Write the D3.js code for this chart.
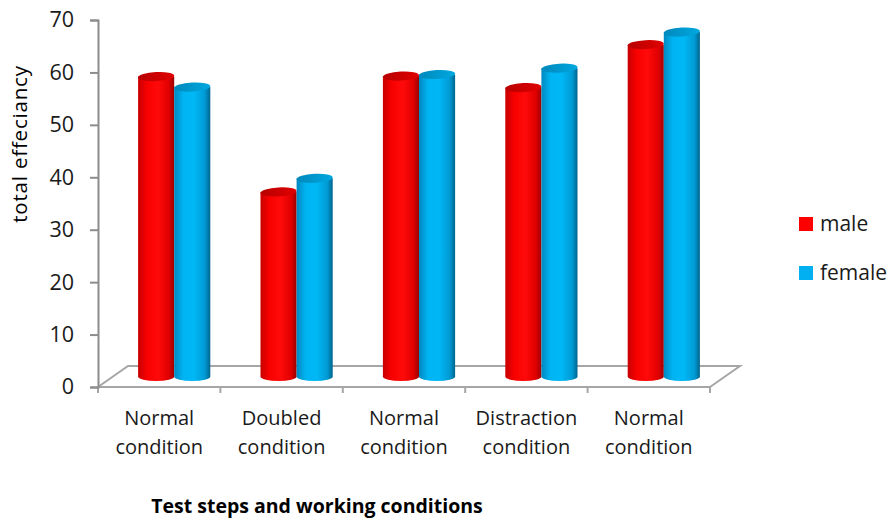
<!DOCTYPE html>
<html>
<head>
<meta charset="utf-8">
<script src="https://cdn.jsdelivr.net/npm/d3@7"></script>
<style>
  html, body { margin: 0; padding: 0; background: #ffffff; }
  svg { display: block; font-family: "Open Sans", "Noto Sans", sans-serif; }
</style>
</head>
<body>
<svg id="chart" width="895" height="519"></svg>
<script>
// ---- data ----
const categories = [
  ["Normal", "condition"],
  ["Doubled", "condition"],
  ["Normal", "condition"],
  ["Distraction", "condition"],
  ["Normal", "condition"]
];
const seriesNames = ["male", "female"];
const maleValues = [57.2, 35.2, 57.3, 55.1, 63.3];
const femaleValues = [55.2, 37.8, 57.6, 58.8, 65.7];
const yTicks = [0, 10, 20, 30, 40, 50, 60, 70];
const yTitle = "total effeciancy";
const xTitle = "Test steps and working conditions";

const seriesValues = [maleValues, femaleValues];

// ---- layout ----
const svg = d3.select("#chart");
const plotLeft = 98, plotRight = 710, plotTop = 20, plotBottom = 387;
const depthX = 30, depthY = -21;       // floor depth offset
const midX = depthX / 2, midY = depthY / 2;
const ry = 4.5;

const y = d3.scaleLinear().domain([0, 70]).range([plotBottom, plotTop]);
const x = d3.scaleBand().domain(d3.range(categories.length)).range([plotLeft, plotRight]);
const groupW = x.bandwidth() * 0.59;
const xs = d3.scaleBand().domain(seriesNames).range([-groupW / 2, groupW / 2]);

const colors = { male: "#ff0000", female: "#00b0f0" };

// gradients
const defs = svg.append("defs");
const gradSpec = {
  male: [["0%", "#c80000"], ["25%", "#f80000"], ["55%", "#ff0a0a"], ["85%", "#e00000"], ["100%", "#9a0000"]],
  female: [["0%", "#0088c0"], ["25%", "#00b4f2"], ["55%", "#00b8f6"], ["85%", "#009ad4"], ["100%", "#00658e"]]
};
const topSpec = {
  male: [["0%", "#b80000"], ["100%", "#e00000"]],
  female: [["0%", "#0088bb"], ["100%", "#00a8e0"]]
};
Object.keys(gradSpec).forEach(k => {
  const g = defs.append("linearGradient").attr("id", "body-" + k)
    .attr("x1", "0%").attr("x2", "100%").attr("y1", "0%").attr("y2", "0%");
  gradSpec[k].forEach(s => g.append("stop").attr("offset", s[0]).attr("stop-color", s[1]));
  const t = defs.append("linearGradient").attr("id", "top-" + k)
    .attr("x1", "0%").attr("x2", "100%").attr("y1", "0%").attr("y2", "0%");
  topSpec[k].forEach(s => t.append("stop").attr("offset", s[0]).attr("stop-color", s[1]));
});

const axisColor = "#8c8c8c";

// floor
const floor = svg.append("g").attr("stroke", "#a6a6a6").attr("stroke-width", 2).attr("fill", "none");
floor.append("path").attr("d",
  `M${plotLeft},${plotBottom} L${plotLeft + depthX},${plotBottom + depthY} L${plotRight + depthX},${plotBottom + depthY} L${plotRight},${plotBottom}`);

// cylinders
const bars = svg.append("g");
categories.forEach((c, i) => {
  seriesNames.forEach((s, j) => {
    const v = seriesValues[j][i];
    const cx0 = x(i) + x.bandwidth() / 2 + midX;
    const x0 = cx0 + xs(s);
    const x1 = x0 + xs.bandwidth();
    const rx = xs.bandwidth() / 2;
    const yb = y(0) + midY;
    const yt = y(v) + midY;
    const g = bars.append("g");
    g.append("path")
      .attr("d", `M${x0},${yt} L${x0},${yb} A${rx},${ry} 0 0 0 ${x1},${yb} L${x1},${yt} Z`)
      .attr("fill", `url(#body-${s})`);
    g.append("ellipse")
      .attr("cx", (x0 + x1) / 2).attr("cy", yt)
      .attr("rx", rx).attr("ry", ry)
      .attr("transform", `rotate(-3 ${(x0 + x1) / 2} ${yt})`)
      .attr("fill", `url(#top-${s})`);
  });
});

// front floor edge / x axis
const xAxisG = svg.append("g").attr("transform", `translate(0,${plotBottom})`);
xAxisG.append("line").attr("x1", plotLeft).attr("x2", plotRight).attr("y1", 0).attr("y2", 0)
  .attr("stroke", "#a6a6a6").attr("stroke-width", 2);
const xTickPos = d3.range(categories.length + 1).map(i => i < categories.length ? x(i) : plotRight);
xAxisG.selectAll("line.tick").data(xTickPos).join("line").attr("class", "tick")
  .attr("x1", d => d).attr("x2", d => d).attr("y1", 0).attr("y2", 6)
  .attr("stroke", "#a6a6a6").attr("stroke-width", 2);

// x labels
const xl = svg.append("g").attr("fill", "#1a1a1a").attr("font-size", 20).attr("text-anchor", "middle");
categories.forEach((c, i) => {
  const t = xl.append("text").attr("x", x(i) + x.bandwidth() / 2).attr("y", 425);
  c.forEach((line, k) => t.append("tspan").attr("x", x(i) + x.bandwidth() / 2).attr("dy", k === 0 ? 0 : 29).text(line));
});

// y axis
const yAxis = d3.axisLeft(y).tickValues(yTicks).tickSize(8).tickPadding(16).tickFormat(d3.format("d"));
const yg = svg.append("g").attr("transform", `translate(${plotLeft},0)`).call(yAxis);
yg.select(".domain").attr("stroke", axisColor).attr("stroke-width", 2);
yg.selectAll(".tick line").attr("stroke", axisColor).attr("stroke-width", 2);
yg.selectAll(".tick text").attr("fill", "#1a1a1a").attr("font-size", 21.5)
  .attr("font-family", "'Open Sans', sans-serif");

// y title
svg.append("text")
  .attr("transform", "translate(27,144) rotate(-90)")
  .attr("text-anchor", "middle").attr("font-size", 20.5).attr("fill", "#000")
  .attr("letter-spacing", 0.8)
  .text(yTitle);

// x title
svg.append("text")
  .attr("x", 317).attr("y", 513)
  .attr("text-anchor", "middle").attr("font-size", 19.5).attr("font-weight", "bold").attr("fill", "#000")
  .text(xTitle);

// legend
const legend = svg.append("g");
seriesNames.forEach((s, j) => {
  const ly = 217 + j * 49;
  legend.append("rect").attr("x", 799).attr("y", ly).attr("width", 14).attr("height", 14).attr("fill", colors[s]);
  legend.append("text").attr("x", 820).attr("y", ly + 14).attr("font-size", 21).attr("fill", "#1a1a1a").text(s);
});
</script>
</body>
</html>
